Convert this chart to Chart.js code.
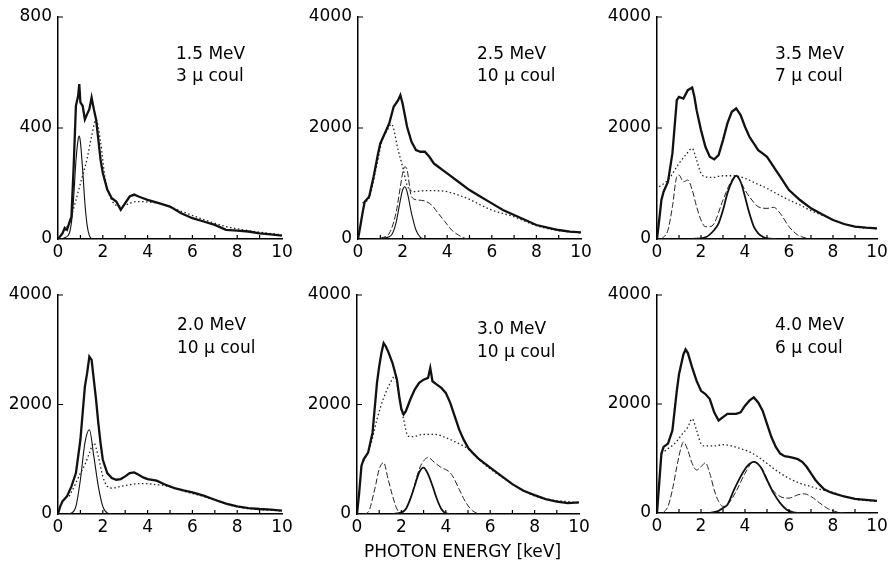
<!DOCTYPE html>
<html>
<head>
<meta charset="utf-8">
<script src="https://cdn.jsdelivr.net/npm/chart.js@4.4.0/dist/chart.umd.min.js"></script>
<style>
body { margin:0; width:888px; height:569px; overflow:hidden; background:#fff; position:relative; font-family:"DejaVu Sans", sans-serif; }
canvas { position:absolute; }
.lbl { position:absolute; font-size:17px; line-height:17px; color:#000; white-space:nowrap; }
</style>
</head>
<body>
<script>
// ---- 1.5 MeV, 3 µcoul ----
const e15Main = [0,0.2,0.3,0.4,0.5,0.6,0.7,0.8,0.9,0.95,1.0,1.1,1.2,1.3,1.4,1.5,1.6,1.7,1.8,1.9,2.0,2.2,2.4,2.6,2.8,3.0,3.2,3.4,3.6,3.8,4.0,4.5,5.0,5.5,6.0,6.5,7.0,7.5,8.0,8.5,9.0,9.5,10];
const c15Main = [0,20,40,33,57,80,262,480,516,558,492,480,431,450,468,510,468,431,359,286,238,178,147,135,105,129,153,160,153,147,141,129,117,93,75,63,51,33,30,27,20,17,12];
const e15Dot = [0.3,0.5,0.8,1.0,1.3,1.5,1.7,1.9,2.1,2.4,2.8,3.5,4.5,5.5,6.5,7.5,8.5,10];
const c15Dot = [30,60,140,200,290,370,430,350,220,140,118,135,128,100,70,45,30,15];
const e15Peak = [0,0.3,0.5,0.6,0.7,0.8,0.9,0.95,1.0,1.1,1.2,1.3,1.4,1.5,1.7];
const c15Peak = [0,5,20,60,150,280,360,371,350,250,130,50,12,2,0];

// ---- 2.5 MeV, 10 µcoul ----
const e25Main = [0,0.1,0.2,0.3,0.5,0.7,0.9,1.0,1.2,1.4,1.6,1.8,1.9,2.0,2.2,2.4,2.6,2.8,3.0,3.2,3.4,3.6,3.8,4.0,4.5,5.0,5.5,6.0,6.5,7.0,7.5,8.0,8.5,9.0,9.5,10];
const c25Main = [0,222,462,672,762,1122,1542,1722,1902,2082,2382,2502,2592,2442,2022,1752,1602,1572,1572,1482,1362,1302,1242,1182,1032,882,762,642,522,432,342,252,204,162,132,120];
const e25Dot = [0.2,0.5,0.8,1.1,1.3,1.5,1.8,2.0,2.2,2.5,3.0,3.5,4.0,4.5,5.0,5.5,6.0,7.0,8.0,9.0,10];
const c25Dot = [650,740,1250,1800,1950,2070,1602,1302,972,852,870,870,852,792,714,612,522,400,240,150,110];
const e25Dash = [1.0,1.4,1.7,1.9,2.0,2.1,2.2,2.4,2.7,3.0,3.3,3.6,3.9,4.2,4.5,4.8,5.0];
const c25Dash = [12,102,462,942,1182,1302,1250,762,702,684,612,462,312,162,72,12,0];
const e25Peak = [0.8,1.2,1.5,1.7,1.9,2.0,2.1,2.2,2.4,2.6,2.8,3.0];
const c25Peak = [0,20,72,282,702,882,942,852,462,162,30,0];

// ---- 3.5 MeV, 7 µcoul ----
const e35Main = [0,0.1,0.2,0.3,0.5,0.7,0.9,1.0,1.2,1.4,1.6,1.7,1.8,2.0,2.2,2.4,2.6,2.8,3.0,3.2,3.4,3.6,3.8,4.0,4.2,4.4,4.6,4.8,5.0,5.2,5.4,5.6,5.8,6.0,6.5,7.0,7.5,8.0,8.5,9.0,9.5,10];
const c35Main = [0,342,702,852,1032,1542,2502,2562,2532,2682,2730,2562,2322,1962,1662,1482,1434,1512,1782,2082,2292,2352,2232,2022,1842,1722,1602,1542,1482,1362,1242,1122,1002,882,702,552,444,342,270,222,204,192];
const e35Dot = [0.1,0.5,1.0,1.3,1.6,1.8,2.0,2.2,2.5,3.0,3.5,4.0,4.5,5.0,5.5,6.0,6.5,7.0,7.5,8.0,9.0,10];
const c35Dot = [942,1062,1362,1512,1632,1422,1182,1122,1110,1140,1140,1092,1002,912,804,702,612,510,430,350,220,185];
const e35Dash = [0.2,0.5,0.7,0.9,1.0,1.2,1.4,1.6,1.8,2.0,2.2,2.4,2.6,3.0,3.4,3.6,3.8,4.0,4.2,4.6,5.0,5.3,5.6,6.0,6.4,6.8];
const c35Dash = [0,162,582,1122,1152,1032,1062,882,582,342,222,222,282,702,1062,1134,1032,882,762,582,552,570,462,222,72,12];
const e35Peak = [1.6,2.2,2.6,2.8,3.0,3.2,3.4,3.6,3.8,4.0,4.2,4.4,4.6,4.8,5.0,5.4];
const c35Peak = [0,30,162,282,522,822,1032,1140,1032,762,462,222,102,42,10,0];

// ---- 2.0 MeV, 10 µcoul ----
const e20Main = [0,0.1,0.2,0.4,0.5,0.6,0.8,1.0,1.1,1.2,1.3,1.4,1.5,1.6,1.7,1.8,1.9,2.0,2.2,2.4,2.6,2.8,3.0,3.2,3.4,3.6,3.8,4.0,4.4,4.8,5.2,5.6,6.0,6.5,7.0,7.5,8.0,8.5,9.0,9.5,10];
const c20Main = [0,140,231,322,413,505,748,1356,1842,2328,2572,2876,2815,2450,2085,1660,1295,991,748,656,626,638,687,748,760,717,669,638,608,535,474,432,395,334,261,188,140,109,91,79,61];
const e20Dot = [0.5,0.8,1.0,1.2,1.4,1.6,1.8,2.0,2.2,2.4,2.8,3.2,3.6,4.0,4.4,4.8,5.5,6.5,8,10];
const c20Dot = [322,565,748,900,1113,1295,1052,687,505,474,505,535,553,553,535,517,430,320,130,55];
const e20Peak = [0.4,0.6,0.8,1.0,1.2,1.4,1.6,1.8,2.0,2.2,2.4];
const c20Peak = [0,18,140,626,1295,1538,1052,505,140,18,0];

// ---- 3.0 MeV, 10 µcoul ----
const e30Main = [0,0.1,0.2,0.3,0.5,0.7,0.9,1.0,1.1,1.2,1.3,1.4,1.6,1.8,1.9,2.0,2.1,2.2,2.4,2.6,2.8,3.0,3.2,3.3,3.4,3.6,3.8,4.0,4.2,4.4,4.6,4.8,5.0,5.2,5.5,6.0,6.5,7.0,7.5,8.0,8.5,9.0,9.5,10];
const c30Main = [0,394,879,1000,1121,1485,2394,2697,2939,3121,3060,2970,2757,2454,2151,1909,1818,1879,2091,2272,2394,2454,2485,2666,2424,2363,2303,2212,2030,1788,1545,1363,1212,1121,1000,848,697,545,424,345,273,224,200,212];
const e30Dot = [0.3,0.6,0.9,1.2,1.5,1.7,1.9,2.1,2.3,2.5,3.0,3.5,4.0,4.5,5.0,5.5,6.5,8,10];
const c30Dot = [970,1242,1727,2121,2394,2515,2151,1727,1424,1412,1454,1454,1394,1303,1190,990,680,330,200];
const e30Dash = [0.3,0.5,0.8,1.0,1.2,1.4,1.6,1.8,2.0,2.2,2.5,2.8,3.0,3.2,3.5,3.8,4.1,4.3,4.6,4.9,5.2,5.5];
const c30Dash = [0,30,454,818,939,636,333,91,10,91,394,818,970,1030,939,848,788,697,454,212,61,0];
const e30Peak = [1.6,2.0,2.2,2.4,2.6,2.8,3.0,3.2,3.4,3.6,3.8,4.0,4.2];
const c30Peak = [0,30,91,273,515,758,848,727,515,273,91,12,0];

// ---- 4.0 MeV, 6 µcoul ----
const e40Main = [0,0.1,0.2,0.3,0.5,0.7,0.9,1.0,1.2,1.3,1.4,1.6,1.8,2.0,2.2,2.4,2.6,2.8,3.0,3.2,3.4,3.6,3.8,4.0,4.2,4.4,4.6,4.8,5.0,5.2,5.4,5.6,5.8,6.0,6.2,6.4,6.6,6.8,7.0,7.2,7.4,7.6,7.8,8.0,8.5,9.0,9.5,10];
const c40Main = [0,545,1091,1212,1273,1515,2242,2545,2909,3000,2939,2667,2424,2242,2182,2091,1848,1697,1758,1818,1818,1818,1848,1970,2061,2121,2030,1879,1636,1394,1212,1091,1042,1030,1012,988,939,848,727,606,515,436,394,364,303,261,242,224];
const e40Dot = [0.2,0.5,0.8,1.1,1.4,1.6,1.8,2.0,2.2,2.6,3.0,3.4,3.8,4.2,4.6,5.0,5.5,6.0,6.5,7.0,7.5,8.0,9.0,10];
const c40Dot = [1091,1182,1273,1424,1576,1727,1515,1273,1230,1230,1254,1230,1182,1121,1030,909,758,636,545,485,424,376,250,215];
const e40Dash = [0.3,0.5,0.7,0.9,1.1,1.2,1.4,1.6,1.8,2.0,2.2,2.4,2.6,2.8,3.0,3.2,3.6,4.0,4.4,4.8,5.2,5.6,6.0,6.4,6.7,7.0,7.4,7.8,8.2,8.5];
const c40Dash = [12,121,424,848,1212,1303,1152,909,788,848,921,727,424,212,121,152,400,727,939,800,455,303,273,333,351,303,182,73,18,0];
const e40Peak = [2.4,2.8,3.0,3.2,3.5,3.8,4.1,4.4,4.7,5.0,5.3,5.6,5.9,6.2,6.5];
const c40Peak = [0,40,91,152,424,667,860,939,848,606,364,182,61,12,0];

const xTicks = [0,2,4,6,8,10];
const xMinor = [1,2,3,4,5,6,7,8,9];

function pts(xs, ys) {
    return xs.map((x, i) => ({x: x, y: ys[i]}));
}

// small inward tick marks like the original plot
const tickMarks = {
    id: 'tickMarks',
    afterDraw(chart) {
        const ctx = chart.ctx, xs = chart.scales.x, ys = chart.scales.y;
        ctx.save();
        ctx.strokeStyle = '#000';
        ctx.lineWidth = 1.2;
        ctx.beginPath();
        xMinor.forEach(v => {
            const px = xs.getPixelForValue(v);
            ctx.moveTo(px, ys.bottom);
            ctx.lineTo(px, ys.bottom - 4);
        });
        ys.ticks.forEach(t => {
            if (t.value === 0) return;
            const py = ys.getPixelForValue(t.value);
            ctx.moveTo(xs.left, py);
            ctx.lineTo(xs.left + 5, py);
        });
        ctx.stroke();
        ctx.restore();
    }
};

function makePanel(box, yMax, yStep, curves, peakWidth) {
    const cv = document.createElement('canvas');
    const w = (box.r - box.l) + 58 + 14;
    const h = (box.b - box.t) + 20 + 30;
    cv.width = w; cv.height = h;
    cv.style.left = (box.l - 58) + 'px';
    cv.style.top = (box.t - 20) + 'px';
    cv.style.width = w + 'px';
    cv.style.height = h + 'px';
    document.body.appendChild(cv);

    const sets = [
        {data: pts(curves.main[0], curves.main[1]), borderColor: '#111', borderWidth: 2.3, tension: 0},
        {data: pts(curves.peak[0], curves.peak[1]), borderColor: '#111', borderWidth: peakWidth, cubicInterpolationMode: 'monotone'},
        {data: pts(curves.dot[0], curves.dot[1]), borderColor: '#222', borderWidth: 1.3, borderDash: [1.5, 2.5], cubicInterpolationMode: 'monotone'}
    ];
    if (curves.dash) {
        sets.push({data: pts(curves.dash[0], curves.dash[1]), borderColor: '#222', borderWidth: 1, borderDash: [6, 2.5], cubicInterpolationMode: 'monotone'});
    }

    new Chart(cv, {
        type: 'line',
        data: {datasets: sets},
        options: {
            responsive: false,
            animation: false,
            devicePixelRatio: 1,
            layout: {padding: {top: 20, right: 14, left: 0, bottom: 0}},
            elements: {point: {radius: 0}},
            plugins: {legend: {display: false}, tooltip: {enabled: false}},
            scales: {
                x: {
                    type: 'linear', min: 0, max: 10,
                    afterBuildTicks: s => { s.ticks = xTicks.map(v => ({value: v})); },
                    grid: {display: false, drawTicks: false},
                    border: {display: true, color: '#000', width: 1.5},
                    ticks: {color: '#000', padding: 3, maxRotation: 0, font: {family: 'DejaVu Sans', size: 17},
                        callback: v => String(v)},
                    afterFit: s => { s.height = 30; }
                },
                y: {
                    min: 0, max: yMax,
                    ticks: {stepSize: yStep, color: '#000', padding: 6, font: {family: 'DejaVu Sans', size: 17},
                        callback: v => String(v)},
                    grid: {display: false, drawTicks: false},
                    border: {display: true, color: '#000', width: 1.5},
                    afterFit: s => { s.width = 58; }
                }
            }
        },
        plugins: [tickMarks]
    });
}

makePanel({l: 58, r: 282, t: 17, b: 239}, 800, 400,
    {main: [e15Main, c15Main], dot: [e15Dot, c15Dot], peak: [e15Peak, c15Peak]}, 1.1);
makePanel({l: 358, r: 581, t: 17, b: 239}, 4000, 2000,
    {main: [e25Main, c25Main], dot: [e25Dot, c25Dot], dash: [e25Dash, c25Dash], peak: [e25Peak, c25Peak]}, 1.1);
makePanel({l: 657, r: 877, t: 17, b: 239}, 4000, 2000,
    {main: [e35Main, c35Main], dot: [e35Dot, c35Dot], dash: [e35Dash, c35Dash], peak: [e35Peak, c35Peak]}, 1.8);
makePanel({l: 58, r: 282, t: 295, b: 514}, 4000, 2000,
    {main: [e20Main, c20Main], dot: [e20Dot, c20Dot], peak: [e20Peak, c20Peak]}, 1.1);
makePanel({l: 357, r: 579, t: 295, b: 514}, 4000, 2000,
    {main: [e30Main, c30Main], dot: [e30Dot, c30Dot], dash: [e30Dash, c30Dash], peak: [e30Peak, c30Peak]}, 1.8);
makePanel({l: 657, r: 877, t: 295, b: 513}, 4000, 2000,
    {main: [e40Main, c40Main], dot: [e40Dot, c40Dot], dash: [e40Dash, c40Dash], peak: [e40Peak, c40Peak]}, 1.8);

// panel annotations
const notes = [
    ['1.5 MeV', 176, 45], ['3 \u00b5 coul', 176, 67],
    ['2.5 MeV', 477, 45], ['10 \u00b5 coul', 477, 67],
    ['3.5 MeV', 775, 45], ['7 \u00b5 coul', 775, 67],
    ['2.0 MeV', 177, 316], ['10 \u00b5 coul', 177, 339],
    ['3.0 MeV', 477, 320], ['10 \u00b5 coul', 477, 343],
    ['4.0 MeV', 775, 316], ['6 \u00b5 coul', 775, 339],
    ['PHOTON ENERGY [keV]', 364, 543]
];
notes.forEach(n => {
    const d = document.createElement('div');
    d.className = 'lbl';
    d.textContent = n[0];
    d.style.left = n[1] + 'px';
    d.style.top = n[2] + 'px';
    document.body.appendChild(d);
});
</script>
</body>
</html>
